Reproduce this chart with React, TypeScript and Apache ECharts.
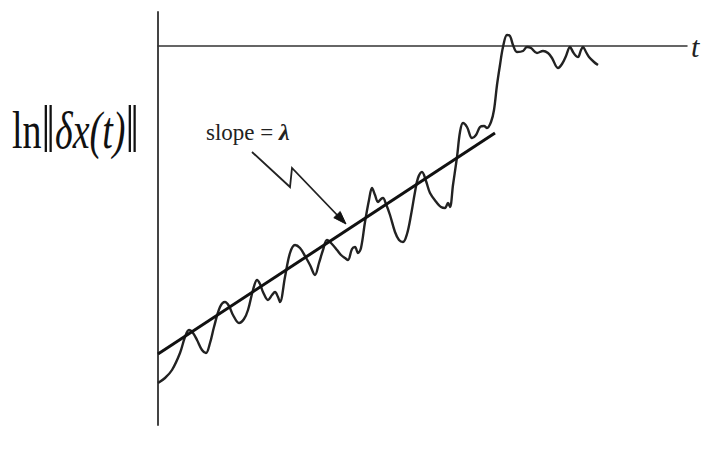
import React, { useEffect, useRef } from "react";
import * as echarts from "echarts";

// time (arbitrary units) and ln||δx(t)|| (arbitrary units)
const tValues = [
  0, 0.7, 1.4, 2.2, 2.7, 3.1, 3.5, 3.9, 4.4, 4.8, 5.2, 5.6, 6.2, 6.7, 7.1, 7.5, 8.1, 8.6, 9.0, 9.5,
  9.9, 10.2, 10.5, 11.0, 11.4, 11.7, 12.0, 12.2, 12.7, 13.2, 13.7, 14.2, 14.7, 15.2, 15.7, 16.1,
  16.5, 16.9, 17.3, 17.9, 18.3, 18.7, 19.0, 19.4, 19.7, 20.0, 20.3, 20.7, 21.1, 21.4, 21.7, 22.0,
  22.3, 22.5, 22.8, 23.2, 23.7, 24.1, 24.5, 24.9, 25.3, 25.7, 26.0, 26.4, 26.8, 27.2, 27.9, 28.3,
  28.7, 29.0, 29.2, 29.5, 29.9, 30.2, 30.5, 30.9, 31.4, 31.8, 32.2, 32.6, 32.9, 33.3, 33.6, 33.9,
  34.2, 34.5, 34.9, 35.2, 35.5, 35.9, 36.5, 36.9, 37.3, 37.9, 38.5, 39.0, 39.4, 40.0, 40.4, 40.8,
  41.2, 41.5, 41.8, 42.0, 42.3, 42.5, 42.8, 43.1, 43.6, 44.0,
];
const lnDelta = [
  -33.7, -33.2, -32.4, -30.7, -29.1, -28.4, -28.7, -29.4, -30.4, -30.7, -29.7, -28.1, -26.1, -25.6,
  -26.0, -26.9, -27.7, -27.3, -26.4, -24.4, -23.4, -23.8, -24.6, -25.4, -24.9, -24.6, -25.1, -25.6,
  -23.1, -20.7, -19.9, -20.2, -21.0, -21.9, -22.9, -21.7, -20.4, -19.4, -19.7, -20.4, -20.9, -21.2,
  -21.4, -20.3, -20.1, -20.7, -20.2, -17.6, -15.4, -14.2, -14.9, -15.6, -15.3, -15.2, -15.8, -16.9,
  -18.6, -19.4, -19.6, -18.8, -16.9, -14.6, -13.2, -12.6, -13.5, -14.7, -15.7, -16.1, -16.2, -15.7,
  -16.1, -13.9, -11.1, -8.6, -7.7, -8.1, -9.2, -8.9, -8.1, -8.0, -8.2, -7.6, -6.4, -3.9, -1.9, -0.1,
  1.1, 1.0, 0.1, -0.6, -0.5, -0.1, -0.2, -0.7, -0.5, -0.7, -1.2, -2.2, -1.8, -1.0, -0.1, -0.6, -1.0,
  -1.1, -0.4, -0.1, -0.6, -1.1, -1.6, -1.9,
];
// fitted straight line, slope = λ
const fitT = [0, 33.7];
const fitY = [-30.8, -8.7];

const xAxisName = "t";

export default function App() {
  const ref = useRef<HTMLDivElement>(null);
  useEffect(() => {
    document.body.style.margin = "0";
    if (!ref.current) return;
    const chart = echarts.init(ref.current, null, { renderer: "svg" });
    const serif = "'Liberation Serif', 'DejaVu Serif', serif";
    chart.setOption({
      animation: false,
      backgroundColor: "#ffffff",
      grid: { left: 158, right: 17, top: 12, bottom: 29 },
      xAxis: {
        type: "value",
        min: 0,
        max: 52.9,
        name: xAxisName,
        nameLocation: "end",
        nameGap: 4,
        nameTextStyle: { fontFamily: serif, fontStyle: "italic", fontSize: 30, color: "#222", verticalAlign: "middle" },
        axisLine: { onZero: true, lineStyle: { color: "#333", width: 1.5 } },
        axisTick: { show: false },
        axisLabel: { show: false },
        splitLine: { show: false },
      },
      yAxis: {
        type: "value",
        min: -37.9,
        max: 3.4,
        axisLine: { show: true, onZero: false, lineStyle: { color: "#444", width: 2 } },
        axisTick: { show: false },
        axisLabel: { show: false },
        splitLine: { show: false },
      },
      series: [
        {
          type: "line",
          data: tValues.map((t, i) => [t, lnDelta[i]]),
          smooth: 0.35,
          showSymbol: false,
          lineStyle: { color: "#222", width: 2.4 },
          z: 3,
        },
        {
          type: "line",
          data: fitT.map((t, i) => [t, fitY[i]]),
          showSymbol: false,
          lineStyle: { color: "#111", width: 3 },
          z: 4,
        },
      ],
      graphic: [
        {
          type: "text",
          x: 12,
          y: 130,
          scaleY: 1.4,
          style: {
            text: "{a|ln}{b|‖}{c|δx(t)}{b|‖}",
            verticalAlign: "middle",
            rich: {
              a: { fontFamily: serif, fontSize: 38, fill: "#111" },
              b: { fontFamily: serif, fontSize: 48, fill: "#111" },
              c: { fontFamily: serif, fontSize: 38, fontStyle: "italic", fill: "#111" },
            },
          },
        },
        {
          type: "text",
          x: 206,
          y: 132,
          style: {
            text: "{s|slope = }{l|λ}",
            verticalAlign: "middle",
            rich: {
              s: { fontFamily: serif, fontSize: 23, fill: "#222" },
              l: { fontFamily: serif, fontSize: 24, fontWeight: "bold", fontStyle: "italic", fill: "#222" },
            },
          },
        },
        {
          type: "polyline",
          shape: { points: [[252, 152], [290, 187], [292, 168], [340, 218]] },
          style: { stroke: "#222", lineWidth: 1.8, fill: null },
        },
        {
          type: "polygon",
          shape: { points: [[346, 224], [333.8, 217.7], [340.2, 211.5]] },
          style: { fill: "#111", stroke: "#111", lineWidth: 1 },
        },
      ],
    });
    return () => chart.dispose();
  }, []);
  return <div ref={ref} style={{ width: 704, height: 454 }} />;
}
